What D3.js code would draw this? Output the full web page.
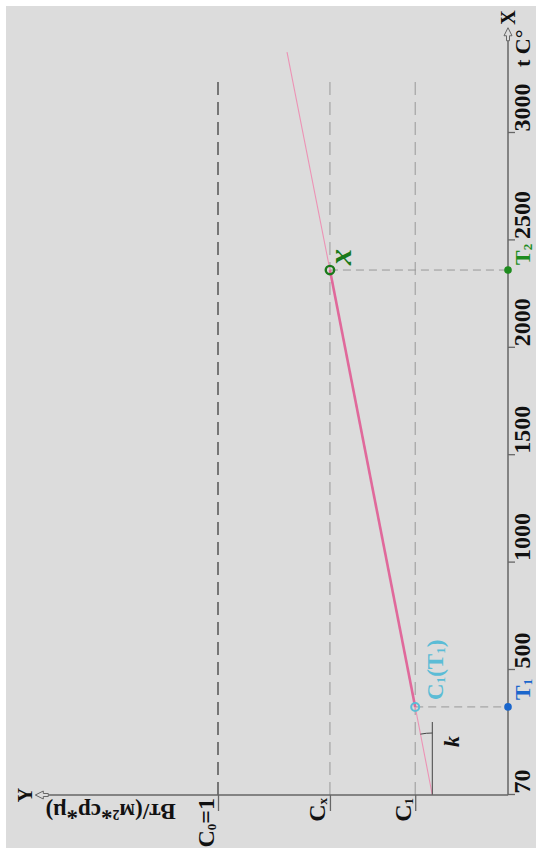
<!DOCTYPE html>
<html><head><meta charset="utf-8">
<script src="https://cdn.jsdelivr.net/npm/d3@7/dist/d3.min.js"></script>
<style>body{margin:0;background:#fff}svg{display:block}</style>
</head><body>
<svg id="c" width="536" height="848"></svg>
<script>
// ---- data ----
const xTicks = [70, 500, 1000, 1500, 2000, 2500, 3000];
const xAxisMax = 3490;
const levelNames = ["C", "C", "C"];
const levelSubs = ["0", "x", "1"];
const levelTails = ["=1", "", ""];
const levelValues = [1, 0.614, 0.32];
const levelEnd = 3256;
const yAxisMax = 1.63;
const lineT = [70, 373, 2362, 3377];
const lineC = [0.261, 0.32, 0.614, 0.762];
const pointT = [373, 2362];
const pointC = [0.32, 0.614];
const yLabel = "Вт/(м²*ср*µ)";
const xLabel = "t C°";

// ---- setup (chart drawn in landscape, then turned) ----
const FONT = "'Liberation Serif','Times New Roman',serif";
const BG = "#dcdcdc", AX = "#666";
const svg = d3.select("#c");
const g = svg.append("g").attr("transform", "translate(0,848) rotate(-90)");
g.append("rect").attr("x", 0).attr("y", 6).attr("width", 842).attr("height", 530).attr("fill", BG);

const x = d3.scaleLinear().domain([xTicks[0], xTicks[1], xTicks[xTicks.length - 1]]).range([53, 178, 715]);
const y = d3.scaleLinear().domain([0, 1]).range([508, 218]);

// level dashed lines
levelValues.forEach((v, i) => {
  g.append("line").attr("x1", x(xTicks[0])).attr("x2", x(levelEnd))
    .attr("y1", y(v)).attr("y2", y(v))
    .attr("stroke", i === 0 ? "#333" : "#999").attr("stroke-width", i === 0 ? 1.2 : 1)
    .attr("stroke-dasharray", "13,7");
});

// drop lines
pointT.forEach((t, i) => {
  g.append("line").attr("x1", x(t)).attr("x2", x(t)).attr("y1", y(pointC[i])).attr("y2", y(0))
    .attr("stroke", "#999").attr("stroke-width", 1).attr("stroke-dasharray", "8,5");
});

// pink line
const lineData = lineT.map((t, i) => [t, lineC[i]]);
const lg = d3.line().x(d => x(d[0])).y(d => y(d[1]));
g.append("path").attr("d", lg(lineData)).attr("fill", "none").attr("stroke", "#ec93b5").attr("stroke-width", 1.1);
g.append("path").attr("d", lg(lineData.slice(1, 3))).attr("fill", "none").attr("stroke", "#e0699b").attr("stroke-width", 2.6);

// angle reference + arc
const vx = x(lineT[0]), vy = y(lineC[0]);
g.append("line").attr("x1", vx).attr("x2", vx + 73).attr("y1", vy).attr("y2", vy).attr("stroke", "#444").attr("stroke-width", 1);
const ang = Math.atan2(y(lineC[0]) - y(lineC[3]), x(lineT[3]) - x(lineT[0]));
const R = 62;
g.append("path").attr("d", `M${vx + R},${vy} A${R},${R} 0 0 0 ${vx + R * Math.cos(ang)},${vy - R * Math.sin(ang)}`)
  .attr("fill", "none").attr("stroke", "#444").attr("stroke-width", 1);
g.append("text").attr("x", vx + 48).attr("y", vy + 27).text("k")
  .attr("font-family", FONT).attr("font-style", "italic").attr("font-weight", "bold").attr("font-size", 22).attr("fill", "#111");

// X axis
const xa = g.append("g").attr("transform", `translate(0,${y(0)})`)
  .call(d3.axisBottom(x).tickValues(xTicks).tickFormat(d3.format("d")).tickSize(7).tickSizeOuter(0));
xa.select(".domain").remove();
xa.selectAll(".tick line").attr("stroke", AX).attr("stroke-width", 1.3);
xa.selectAll(".tick text").attr("text-anchor", "start").attr("x", 1).attr("y", 22).attr("dy", 0)
  .attr("font-family", FONT).attr("font-weight", "bold").attr("font-size", 24).attr("fill", "#111");
const xt = x(xAxisMax), y0 = y(0);
g.append("line").attr("x1", x(xTicks[0])).attr("x2", xt - 13).attr("y1", y0).attr("y2", y0).attr("stroke", AX).attr("stroke-width", 1.5);
g.append("path").attr("d", `M${xt},${y0} L${xt - 8},${y0 - 4} L${xt - 8},${y0 - 1.5} L${xt - 13},${y0 - 1.5} L${xt - 13},${y0 + 1.5} L${xt - 8},${y0 + 1.5} L${xt - 8},${y0 + 4} Z`)
  .attr("fill", BG).attr("stroke", AX).attr("stroke-width", 1);
g.append("text").attr("x", xt + 3).attr("y", y0 + 7).text("X")
  .attr("font-family", FONT).attr("font-weight", "bold").attr("font-size", 20).attr("fill", "#111");
g.append("text").attr("x", x(3000) + 66).attr("y", y0 + 22).text(xLabel)
  .attr("font-family", FONT).attr("font-weight", "bold").attr("font-size", 22).attr("fill", "#111");

// Y axis
const x0 = x(xTicks[0]), yt = y(yAxisMax);
const ya = g.append("g").attr("transform", `translate(${x0},0)`)
  .call(d3.axisLeft(y).tickValues(levelValues).tickSize(16).tickSizeOuter(0));
ya.select(".domain").remove();
ya.selectAll(".tick line").attr("stroke", AX).attr("stroke-width", 1.3);
ya.selectAll(".tick text").each(function (d, i) {
  const t = d3.select(this).text(null).attr("text-anchor", "end").attr("x", -3).attr("y", -5).attr("dy", 0)
    .attr("font-family", FONT).attr("font-weight", "bold").attr("font-size", 24).attr("fill", "#111");
  t.append("tspan").text(levelNames[i]);
  t.append("tspan").text(levelSubs[i]).attr("font-size", 13).attr("dy", 2);
  if (levelTails[i]) t.append("tspan").text(levelTails[i]).attr("dy", -2);
});
g.append("line").attr("x1", x0).attr("x2", x0).attr("y1", y0).attr("y2", yt + 13).attr("stroke", AX).attr("stroke-width", 1.5);
g.append("path").attr("d", `M${x0},${yt} L${x0 - 4},${yt + 8} L${x0 - 1.5},${yt + 8} L${x0 - 1.5},${yt + 13} L${x0 + 1.5},${yt + 13} L${x0 + 1.5},${yt + 8} L${x0 + 4},${yt + 8} Z`)
  .attr("fill", BG).attr("stroke", AX).attr("stroke-width", 1);
g.append("text").attr("x", x0).attr("y", yt - 3).attr("text-anchor", "middle").text("Y")
  .attr("font-family", FONT).attr("font-weight", "bold").attr("font-size", 20).attr("fill", "#111");
g.append("text").attr("transform", `translate(${x0 - 9},${y(1.37)}) rotate(-90)`).attr("text-anchor", "middle").text(yLabel)
  .attr("font-family", FONT).attr("font-weight", "bold").attr("font-size", 23).attr("fill", "#111");

// points
const p1x = x(pointT[0]), p1y = y(pointC[0]), p2x = x(pointT[1]), p2y = y(pointC[1]);
g.append("circle").attr("cx", p1x).attr("cy", p1y).attr("r", 4).attr("fill", "none").attr("stroke", "#5bbcd6").attr("stroke-width", 2);
g.append("circle").attr("cx", p1x).attr("cy", y0).attr("r", 3.8).attr("fill", "#1a66cc");
g.append("circle").attr("cx", p2x).attr("cy", p2y).attr("r", 4.2).attr("fill", "none").attr("stroke", "#1a7a1a").attr("stroke-width", 2.4);
g.append("circle").attr("cx", p2x).attr("cy", y0).attr("r", 3.8).attr("fill", "#1e8c1e");

// point labels
const lab1 = g.append("text").attr("x", p1x + 7).attr("y", p1y + 28)
  .attr("font-family", FONT).attr("font-weight", "bold").attr("font-size", 23).attr("fill", "#5bbcd6");
lab1.append("tspan").text("C");
lab1.append("tspan").text("1").attr("font-size", 13).attr("dy", 2);
lab1.append("tspan").text("(T").attr("dy", -2);
lab1.append("tspan").text("1").attr("font-size", 13).attr("dy", 2);
lab1.append("tspan").text(")").attr("dy", -2);
const t1 = g.append("text").attr("x", p1x + 7).attr("y", y0 + 22)
  .attr("font-family", FONT).attr("font-weight", "bold").attr("font-size", 22).attr("fill", "#1a66cc");
t1.append("tspan").text("T");
t1.append("tspan").text("1").attr("font-size", 13).attr("dy", 2);
const t2 = g.append("text").attr("x", p2x + 5).attr("y", y0 + 22)
  .attr("font-family", FONT).attr("font-weight", "bold").attr("font-size", 22).attr("fill", "#1e8c1e");
t2.append("tspan").text("T");
t2.append("tspan").text("2").attr("font-size", 13).attr("dy", 2);
g.append("text").attr("x", p2x + 5).attr("y", p2y + 21).text("x")
  .attr("font-family", FONT).attr("font-style", "italic").attr("font-weight", "bold").attr("font-size", 32).attr("fill", "#1a7a1a");
</script>
</body></html>
